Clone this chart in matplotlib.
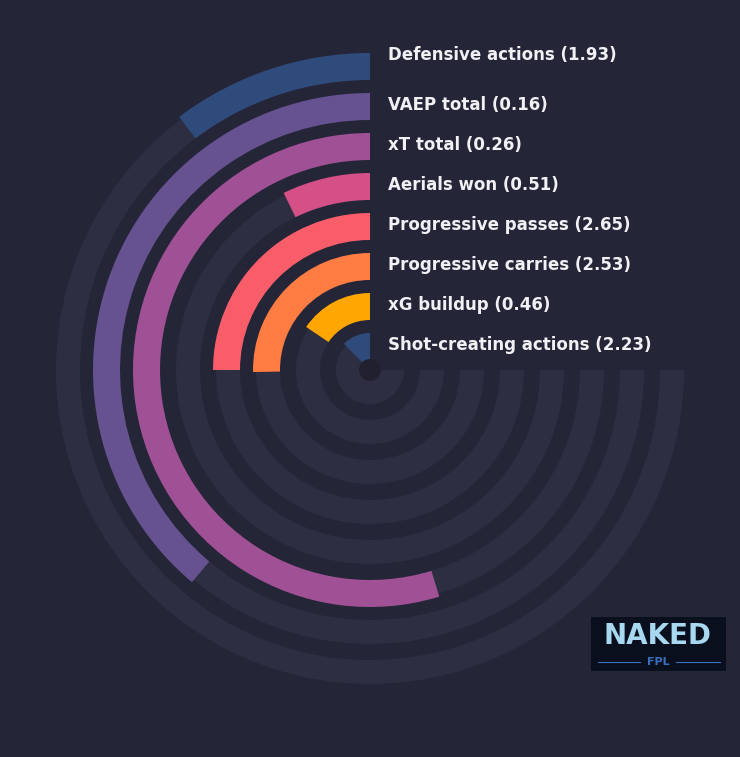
import matplotlib.pyplot as plt
from matplotlib.patches import Wedge, Rectangle, Circle

# metrics, outermost ring first
labels = ["Defensive actions", "VAEP total", "xT total", "Aerials won",
          "Progressive passes", "Progressive carries", "xG buildup", "Shot-creating actions"]
values = [1.93, 0.16, 0.26, 0.51, 2.65, 2.53, 0.46, 2.23]
# sweep of each bar in degrees (out of 270)
sweeps = [37, 140, 197, 26, 90, 91, 56, 45]
colors = ["#2f4b7c", "#665191", "#a05195", "#d45087",
          "#f95d6a", "#ff7c43", "#ffa600", "#2f4b7c"]

bg = "#252538"
track = "#2e2e42"

fig = plt.figure(figsize=(7.4, 7.57), dpi=100, facecolor=bg)
ax = fig.add_axes([0, 0, 1, 1])
ax.set_xlim(0, 740)
ax.set_ylim(0, 757)
ax.axis("off")
ax.set_facecolor(bg)

cx, cy = 370, 757 - 370
width = 27
for i, (lab, v, sw, c) in enumerate(zip(labels, values, sweeps, colors)):
    r = 317 - 40 * i
    ax.add_patch(Wedge((cx, cy), r - 3, 90, 360, width=width - 3, color=track, lw=0))
    ax.add_patch(Wedge((cx, cy), r, 90, 90 + sw, width=width, color=c, lw=0))
    ty = cy + r - width / 2 + 2
    if i == 0:
        ty = 757 - 55
    ax.text(388, ty, f"{lab} ({v:.2f})", color="#f0f0f5",
            fontsize=12, fontweight="bold", va="center", ha="left")

ax.add_patch(Circle((cx, cy), 11, color="#20202f", lw=0))

# logo
ax.add_patch(Rectangle((591, 757 - 671), 135, 54, color="#0a0f1e", lw=0))
ax.text(658, 757 - 636, "NAKED", color="#a8d8f0", fontsize=20, fontweight="bold",
        ha="center", va="center")
ax.plot([598, 640], [757 - 662, 757 - 662], color="#3a6fc0", lw=0.8)
ax.plot([676, 720], [757 - 662, 757 - 662], color="#3a6fc0", lw=0.8)
ax.text(658, 757 - 662, "FPL", color="#3a6fc0", fontsize=8, fontweight="bold",
        ha="center", va="center")

fig.savefig("out.png", dpi=100, facecolor=bg)
